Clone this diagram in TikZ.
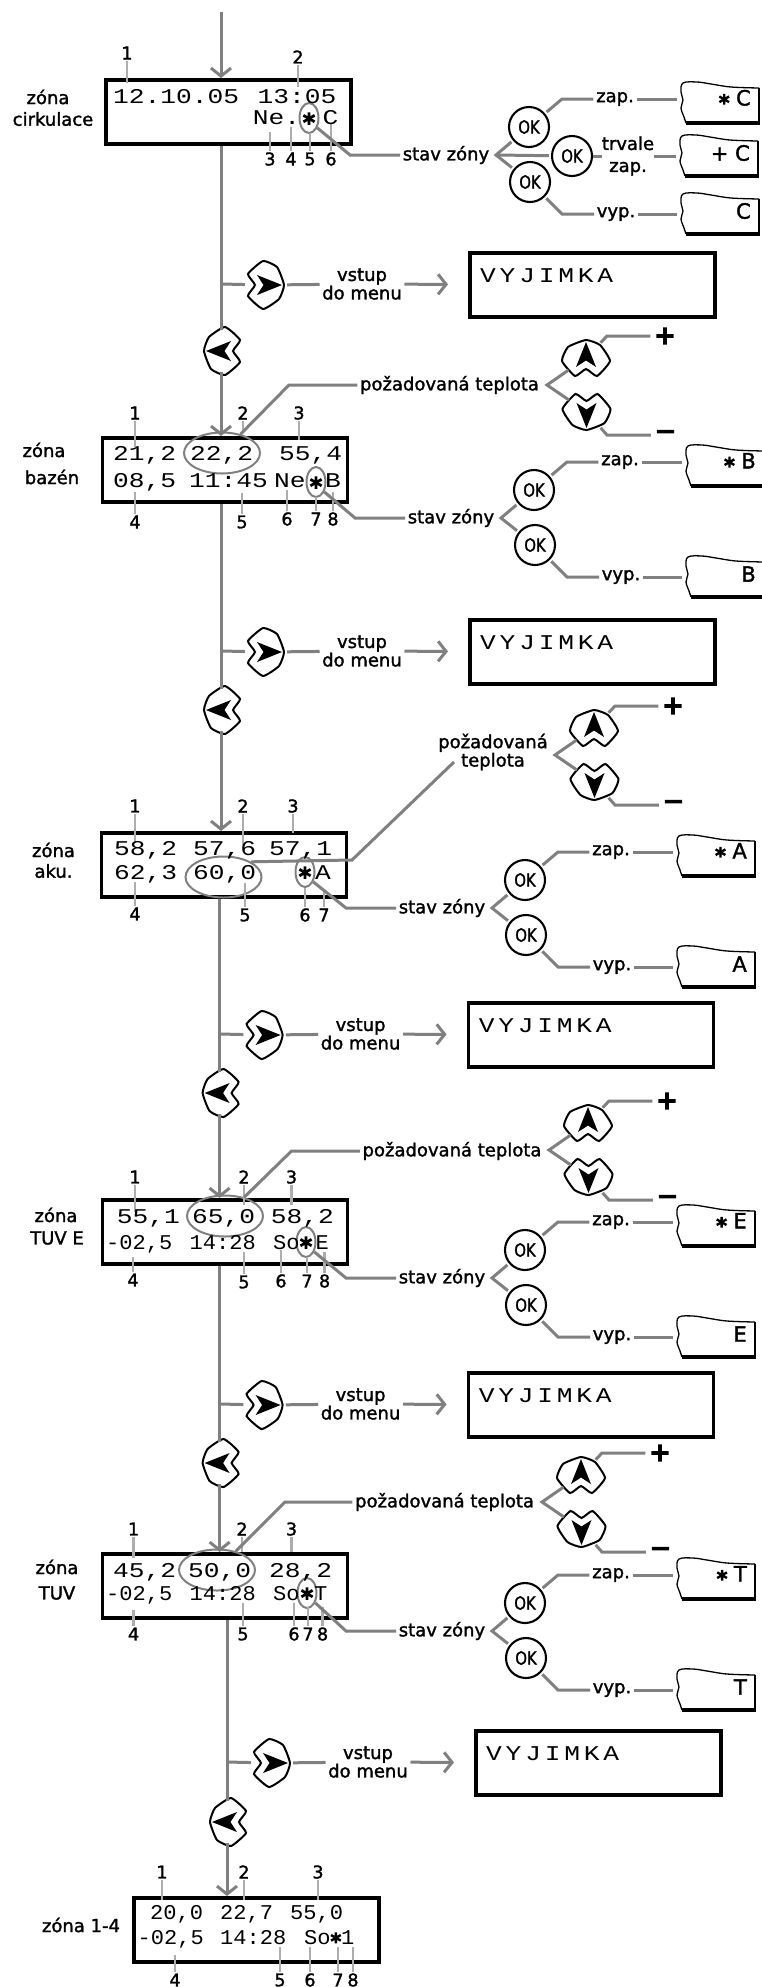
\documentclass[tikz,border=0pt]{standalone}
\usepackage{fontspec}
\setmainfont[FakeBold=1.6]{DejaVu Sans}
\newfontfamily\lcdfont[FakeStretch=1.25]{Liberation Mono}
\newfontfamily\lcdnarrow[FakeStretch=1.05]{Liberation Mono}
\newfontfamily\lcdwide[FakeStretch=1.25,LetterSpace=18]{Liberation Mono}
\newfontfamily\okfont[FakeStretch=0.82,FakeBold=1.6]{DejaVu Sans}
\newfontfamily\thickfont[FakeBold=6]{DejaVu Sans}
\usetikzlibrary{arrows.meta,shapes.geometric}
\newcommand{\hvezda}{\raisebox{-.22em}{\thickfont *}}
\tikzset{
    conn/.style={draw=black!50,line width=3pt},
    leader/.style={draw=black!32,line width=2.4pt},
    ring/.style={ellipse,draw=black!50,line width=2pt,inner sep=0pt},
    displaybox/.style={rectangle,draw=black,line width=3.6pt,minimum width=245pt,minimum height=64pt,inner sep=0pt},
    lbl/.style={font=\fontsize{18}{16}\selectfont,inner sep=2.5pt},
    numlbl/.style={font=\fontsize{17.5}{18}\selectfont,inner sep=1.5pt},
    lcd/.style={font=\fontsize{21}{21}\lcdfont,anchor=base west,inner sep=0pt,yshift=-7pt},
    lcdsmall/.style={font=\fontsize{21}{21}\lcdnarrow,anchor=base west,inner sep=0pt,yshift=-7pt},
    starlbl/.style={font=\fontsize{24}{24}\thickfont,inner sep=0pt,yshift=-4pt},
    okkey/.style={circle,draw=black,line width=2.1pt,minimum size=40pt,inner sep=0pt,fill=white,font=\fontsize{18}{18}\okfont},
    signlbl/.style={font=\fontsize{25}{25}\thickfont,inner sep=4pt},
    arrowkey/.pic={
        \node[circle,inner sep=0pt,minimum size=42pt] (-c) at (0,0) {};
        \begin{scope}[rotate=#1]
            \draw[black,line width=2pt,fill=white] plot[smooth cycle,tension=0.3] coordinates
                {(-18,-11) (-3,-24) (11,-18) (18,0) (13,14) (-3,24) (-18,11) (-11,0)};
            \fill[black] (16,0) -- (-9,-10) -- (-2.5,0) -- (-9,10) -- cycle;
        \end{scope}
    },
    statekey/.pic={
        \node[inner sep=0pt,minimum width=78pt,minimum height=43pt,anchor=north west] (-b) at (0,0) {};
        \draw[black,line width=1.3pt] plot[smooth,tension=0.6] coordinates
            {(5,41) (3,35) (0,26) (2,18) (0,10) (2,1) (16,0) (30,2) (50,5) (78,6)};
        \draw[black,line width=2pt] (78,6) -- (78,42);
        \draw[black,line width=3.6pt] (5,41) -- (79,41);
        \node[font=\fontsize{21}{21}\selectfont,inner sep=0pt,anchor=east] (-t) at (70,18) {#1};
    }
}
\begin{document}
\begin{tikzpicture}[x=1pt,y=-1pt]
    \useasboundingbox (0,0) rectangle (762,1987);

    % Displeje
    \foreach \n/\x/\y in {1/104/78,2/100.6/436,3/99.6/831,4/100.6/1198,5/100.6/1552,6/132/1896} {
        \node[displaybox,anchor=north west] (disp\n) at (\x,\y) {};
    }
    \foreach \n/\x/\y in {2/222/453,3/223.5/877,4/225/1216,5/217/1570} {
        \node[ring,minimum width=76pt,minimum height=41pt] (temp\n) at (\x,\y) {};
    }
    \foreach \n/\x/\y in {1/309/118,2/316/482,3/305/872,4/306/1242,5/307/1593} {
        \node[ring,minimum width=19pt,minimum height=30pt] (star\n) at (\x,\y) {};
    }

    % Cisla a vodici cary
    \foreach \x/\yl/\yb/\val in {
        127/53/83/1, 298/57/87/2, 270/159/132/3, 291/159/127/4, 310/159/133/5, 331/159/123/6,
        135/413/447/1, 243/413/433/2, 299/413/440/3, 135/522/492/4, 242/522/493/5, 287/519/490/6, 316/519/497/7, 333/519/492/8,
        135/806/843/1, 243/806/845/2, 293/806/833/3, 135/914/882/4, 245/915/883/5, 305/915/888/6, 324/915/892/7,
        135/1177/1212/1, 244/1177/1205/2, 291.5/1177/1205/3, 133/1280/1257/4, 244/1282/1252/5, 281/1281/1250/6, 307/1281/1257/7, 324.6/1281/1252/8,
        133.6/1529/1558/1, 242/1529/1552/2, 291.5/1529/1552/3, 133.6/1634/1610/4, 243/1634/1603/5, 294/1634/1603/6, 308/1634/1607/7, 322.6/1634/1607/8,
        162/1872/1900/1, 244/1872/1900/2, 318/1872/1900/3, 175/1980/1955/4, 280/1980/1947/5, 310/1980/1947/6, 338/1980/1947/7, 353/1980/1947/8
    } {
        \node[numlbl] (num) at (\x,\yl) {\val};
        \draw[leader] (num) -- (\x,\yb);
    }

    % Texty na displejich
    \foreach \x/\y/\val in {
        113/96/{12.10.05}, 257.5/96/{13:05}, 252.7/117/{Ne.}, 322.5/117/{C},
        113/453/{21,2}, 190/453/{22,2}, 279/453/{55,4}, 113/480/{08,5}, 189/480/{11:45}, 274/480/{Ne}, 325/480/{B},
        114/848/{58,2}, 193/848/{57,6}, 269/848/{57,1}, 114/872/{62,3}, 193/872/{60,0}, 315/872/{A},
        116.6/1216/{55,1}, 192/1216/{65,0}, 270.6/1216/{58,2},
        113/1570/{45,2}, 188/1570/{50,0}, 269/1570/{28,2}
    } {
        \node[lcd] at (\x,\y) {\val};
    }
    \foreach \x/\y/\val in {
        106/1242/{-02,5}, 189.5/1242/{14:28}, 273/1242/{So}, 315.4/1242/{E},
        106/1593/{-02,5}, 189.5/1593/{14:28}, 273/1593/{So}, 314/1593/{T},
        150/1912/{20,0}, 220/1912/{22,7}, 290/1912/{55,0},
        137.5/1937/{-02,5}, 220/1937/{14:28}, 304/1937/{So\hvezda 1}
    } {
        \node[lcdsmall] at (\x,\y) {\val};
    }
    \foreach \x/\y in {309/118,316/482,305/872,306/1242,307/1593} {
        \node[starlbl] at (\x,\y) {*};
    }

    % Nazvy zon
    \foreach \x/\y/\val in {
        48/97/zóna, 53/119/cirkulace, 44/450/zóna, 52/477/bazén, 53.5/850/zóna, 53.5/871/aku.,
        56/1215/zóna, 57/1238/TUV E, 57/1567/zóna, 57/1593/TUV, 81/1925/zóna 1-4
    } {
        \node[lbl] at (\x,\y) {\val};
    }

    % Vstup do menu a sipky mezi zonami
    \coordinate (start) at (221,12);
    \draw[conn,-{Straight Barb[length=8pt,width=20pt]}] (start) -- (start |- disp1.north);
    \foreach \n/\m/\x/\y/\yl in {1/2/221/284/351,2/3/221/651/710,3/4/219.6/1034/1093,4/5/219.6/1404/1463,5/6/227/1762/1822} {
        \coordinate (jun\n) at (\x,\y);
        \pic (right\n) at (\x+45,\y+1) {arrowkey=0};
        \pic (left\n) at (\x+1,\yl) {arrowkey=180};
        \node[lbl,align=center] (menu\n) at (\x+141,\y) {vstup\\do menu};
        \node[displaybox,anchor=west] (exc\n) at (\x+247,\y+1) {};
        \node[lcd,font=\fontsize{21}{21}\lcdwide] (exctxt\n) at (\x+259,\y-9) {VYJIMKA};
        \draw[conn] (disp\n.south -| jun\n) -- (left\n-c.north -| jun\n);
        \draw[conn] (jun\n) -- (right\n-c);
        \draw[conn] (right\n-c) -- (menu\n);
        \draw[conn,shorten >=20pt,-{Straight Barb[length=8pt,width=20pt]}] (menu\n) -- (exc\n);
        \draw[conn,-{Straight Barb[length=8pt,width=20pt]}] (left\n-c.south -| jun\n) -- (disp\m.north -| jun\n);
    }

    % Stav zony
    \foreach \n/\x/\y/\z in {1/496/155/C,2/501/518/B,3/492/908/A,4/492/1278/E,5/492/1631/T} {
        \node[lbl] (stav\n) at (\x-50,\y) {stav zóny};
        \draw[conn] (star\n.-50) -- (\x-146,\y) -- (stav\n);
        \node[okkey] (ok\n a) at (\x+33,\y-28) {OK};
        \node[okkey] (ok\n b) at (\x+34,\y+27) {OK};
        \draw[conn,shorten <=2pt,shorten >=2pt] (ok\n a) -- (\x,\y) -- (ok\n b);
        \node[lbl] (zap\n) at (\x+119,\y-56) {zap.};
        \node[lbl] (vyp\n) at (\x+120,\y+59) {vyp.};
        \pic (key\n a) at (\x+185,\y-73) {statekey={\hvezda\ \z}};
        \pic (key\n b) at (\x+185,\y+38) {statekey={\z}};
        \draw[conn,shorten <=2pt] (ok\n a) -- (\x+66,\y-56) -- (zap\n);
        \draw[conn,shorten <=2pt] (ok\n b) -- (\x+66,\y+59) -- (vyp\n);
        \draw[conn,shorten >=4pt] (zap\n) -- (key\n a-b.west |- zap\n);
        \draw[conn,shorten >=4pt] (vyp\n) -- (key\n b-b.west |- vyp\n);
    }
    \node[okkey] (ok1c) at (572,156) {OK};
    \node[lbl,font=\fontsize{18}{22}\selectfont,align=center,inner sep=0pt] (trvale) at (628,156) {trvale\\zap.};
    \pic (key1c) at (680,135) {statekey={+ C}};
    \draw[conn,shorten <=2pt] (ok1c) -- (496,155);
    \draw[conn] (ok1c) -- (trvale);
    \draw[conn,shorten >=4pt] (trvale) -- (key1c-b.west |- trvale);

    % Pozadovana teplota
    \node[lbl] (tep2) at (449.5,385) {požadovaná teplota};
    \node[lbl,font=\fontsize{18}{17}\selectfont,align=center] (tep3) at (493,752) {požadovaná\\teplota};
    \node[lbl] (tep4) at (452,1151) {požadovaná teplota};
    \node[lbl] (tep5) at (444.6,1502) {požadovaná teplota};
    \coordinate (tepstart) at (454,762);
    \draw[conn] (tep2) -- (289,385) -- (temp2);
    \draw[conn] (tepstart) -- (352,860) -- (temp3.north east);
    \draw[conn] (tep4) -- (291.5,1151) -- (temp4);
    \draw[conn] (tep5) -- (285,1502) -- (temp5);
    \foreach \n/\x/\y in {2/547/385,3/555/755,4/549/1150,5/542/1502} {
        \pic (up\n) at (\x+39,\y-27) {arrowkey=90};
        \pic (down\n) at (\x+39.5,\y+27) {arrowkey=270};
        \node[signlbl] (plus\n) at (\x+118,\y-49) {+};
        \node[signlbl] (minus\n) at (\x+118.5,\y+50) {−};
        \draw[conn] (up\n-c) -- (\x,\y) -- (down\n-c);
        \draw[conn] (up\n-c) -- (\x+60,\y-49) -- (plus\n);
        \draw[conn] (down\n-c) -- (\x+60,\y+50) -- (minus\n);
    }
\end{tikzpicture}
\end{document}
